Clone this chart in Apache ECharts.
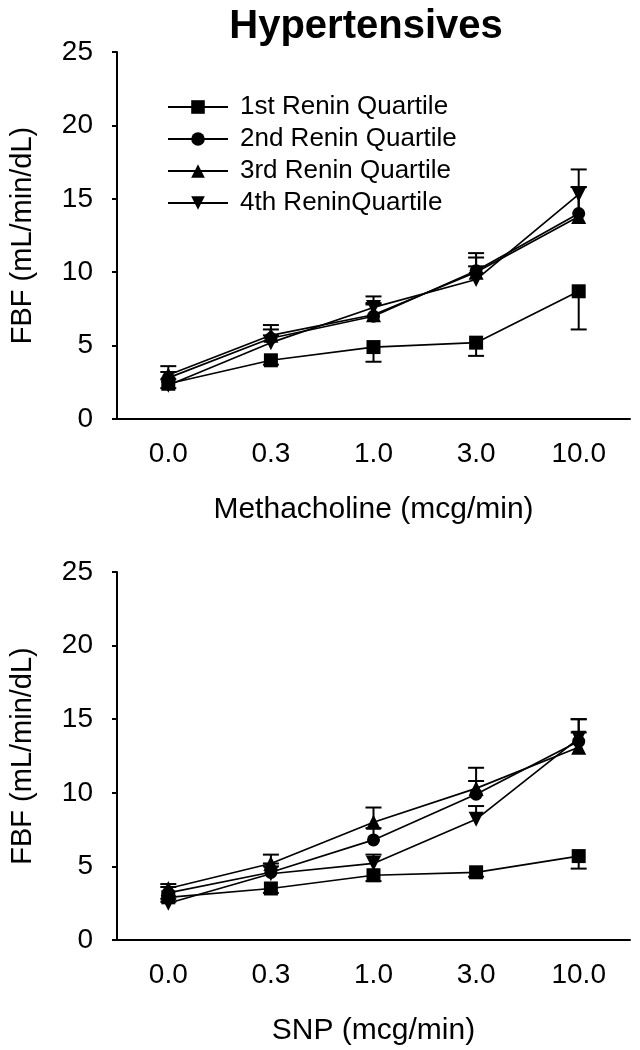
<!DOCTYPE html>
<html><head><meta charset="utf-8">
<script src="https://cdn.jsdelivr.net/npm/echarts@6/dist/echarts.min.js"></script>
<style>html,body{margin:0;padding:0;background:#fff}#c{width:640px;height:1050px}</style>
</head><body><div id="c"></div>
<script>
// ---- data ----
const doses = ['0.0', '0.3', '1.0', '3.0', '10.0'];
const seriesNames = ['1st Renin Quartile', '2nd Renin Quartile', '3rd Renin Quartile', '4th ReninQuartile'];
const yMin = 0, yMax = 25, yStep = 5;

// Methacholine (top panel)
const mchQ1 = [2.4, 4.0, 4.9, 5.2, 8.7];
const mchQ2 = [2.8, 5.5, 7.0, 10.1, 14.0];
const mchQ3 = [3.0, 5.7, 7.1, 10.0, 13.8];
const mchQ4 = [2.3, 5.2, 7.6, 9.5, 15.3];
const mchQ1Err = [0.3, 0.3, 1.0, 0.9, 2.6];
const mchQ2Err = [0.4, 0.6, 0.8, 1.2, 1.8];
const mchQ3Err = [0.6, 0.7, 0.8, 1.0, 2.0];
const mchQ4Err = [0.4, 0.5, 0.75, 0.9, 1.7];

// SNP (bottom panel)
const snpQ1 = [2.9, 3.5, 4.4, 4.6, 5.7];
const snpQ2 = [3.2, 4.6, 6.8, 9.9, 13.5];
const snpQ3 = [3.5, 5.2, 8.0, 10.3, 13.1];
const snpQ4 = [2.5, 4.5, 5.2, 8.2, 13.7];
const snpQ1Err = [0.3, 0.3, 0.4, 0.3, 0.85];
const snpQ2Err = [0.4, 0.6, 0.8, 0.9, 1.5];
const snpQ3Err = [0.3, 0.6, 1.0, 1.4, 1.0];
const snpQ4Err = [0.3, 0.5, 0.6, 0.9, 1.3];

// ---- styling / build ----
const FONT = '"Liberation Sans", Arial, sans-serif';
const symbols = ['rect', 'circle', 'triangle', 'path://M0,0 L10,0 L5,10 Z'];
const symSizes = [14, 13, 15, 15];
const errDir = [-1, 1, 1, 1];

function lineSeries(idx, vals, gi) {
  return {
    type: 'line', name: seriesNames[idx], xAxisIndex: gi, yAxisIndex: gi,
    data: vals, symbol: symbols[idx], symbolSize: symSizes[idx], showSymbol: true,
    lineStyle: { color: '#000', width: 1.7 }, itemStyle: { color: '#000' },
    z: 3, animation: false
  };
}
function errSeries(idx, vals, errs, gi) {
  const d = errDir[idx];
  return {
    type: 'custom', name: 'err' + gi + '_' + idx, xAxisIndex: gi, yAxisIndex: gi,
    silent: true, z: 2, animation: false,
    data: vals.map((v, i) => [i, v, v + d * errs[i]]),
    renderItem(params, api) {
      const p0 = api.coord([api.value(0), api.value(1)]);
      const p1 = api.coord([api.value(0), api.value(2)]);
      const hw = 8;
      return {
        type: 'group', children: [
          { type: 'line', shape: { x1: p0[0], y1: p0[1], x2: p1[0], y2: p1[1] }, style: { stroke: '#000', lineWidth: 2 } },
          { type: 'line', shape: { x1: p1[0] - hw, y1: p1[1], x2: p1[0] + hw, y2: p1[1] }, style: { stroke: '#000', lineWidth: 2 } }
        ]
      };
    }
  };
}
function xAx(gi, name) {
  return {
    type: 'category', gridIndex: gi, data: doses, boundaryGap: true,
    axisLine: { lineStyle: { color: '#000', width: 2 } },
    axisTick: { alignWithLabel: true, length: 5, lineStyle: { color: '#000', width: 2 } },
    axisLabel: { color: '#000', fontSize: 28, fontFamily: FONT, margin: 21 },
    name: name, nameLocation: 'middle', nameGap: 76,
    nameTextStyle: { color: '#000', fontSize: 30, fontFamily: FONT },
    splitLine: { show: false }
  };
}
function yAx(gi) {
  return {
    type: 'value', gridIndex: gi, min: yMin, max: yMax, interval: yStep,
    axisLine: { show: true, lineStyle: { color: '#000', width: 2 } },
    axisTick: { show: true, length: 5, lineStyle: { color: '#000', width: 2 } },
    axisLabel: { color: '#000', fontSize: 28, fontFamily: FONT, margin: 24 },
    splitLine: { show: false },
    name: 'FBF (mL/min/dL)', nameLocation: 'middle', nameGap: 80, nameRotate: 90,
    nameTextStyle: { color: '#000', fontSize: 29, fontFamily: FONT }
  };
}

const topSets = [mchQ1, mchQ2, mchQ3, mchQ4], topErrs = [mchQ1Err, mchQ2Err, mchQ3Err, mchQ4Err];
const botSets = [snpQ1, snpQ2, snpQ3, snpQ4], botErrs = [snpQ1Err, snpQ2Err, snpQ3Err, snpQ4Err];
const allSeries = [];
[topSets, botSets].forEach((set, gi) => {
  const errs = gi === 0 ? topErrs : botErrs;
  set.forEach((vals, i) => allSeries.push(errSeries(i, vals, errs[i], gi)));
  set.forEach((vals, i) => allSeries.push(lineSeries(i, vals, gi)));
});

const chart = echarts.init(document.getElementById('c'), null, { renderer: 'canvas' });
chart.setOption({
  animation: false,
  backgroundColor: '#fff',
  textStyle: { fontFamily: FONT },
  graphic: [{
    type: 'text', x: 366, y: 27,
    style: { text: 'Hypertensives', fill: '#000', font: 'bold 40px ' + FONT, textAlign: 'center', textVerticalAlign: 'middle' }
  }],
  legend: {
    data: seriesNames, orient: 'vertical', left: 162, top: 89,
    itemWidth: 60, itemHeight: 17, itemGap: 6,
    textStyle: { color: '#000', fontSize: 26, fontFamily: FONT, lineHeight: 26, padding: [0, 0, 0, 7] },
    selectedMode: false
  },
  grid: [
    { left: 114, top: 52, width: 516, height: 367 },
    { left: 114, top: 572, width: 516, height: 368 }
  ],
  xAxis: [xAx(0, 'Methacholine (mcg/min)'), xAx(1, 'SNP (mcg/min)')],
  yAxis: [yAx(0), yAx(1)],
  series: allSeries
});
</script></body></html>
